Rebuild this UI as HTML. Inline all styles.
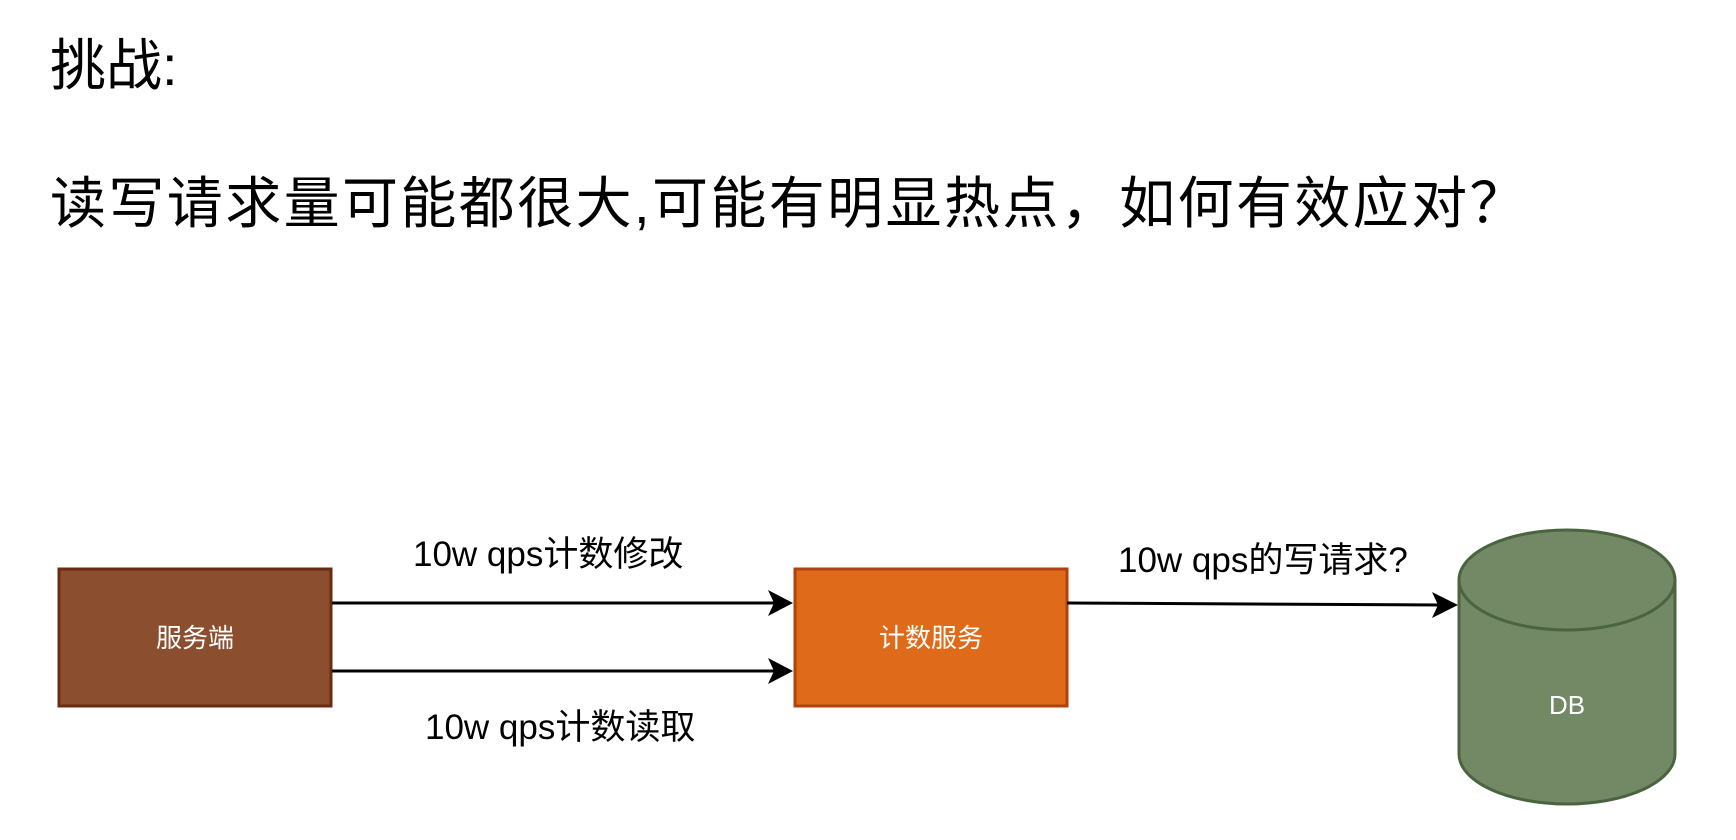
<!DOCTYPE html>
<html><head><meta charset="utf-8"><style>
body{margin:0;width:1736px;height:840px;background:#fff;overflow:hidden;position:relative;font-family:"Liberation Sans","Noto Sans CJK SC",sans-serif;}
.t{position:absolute;white-space:nowrap;color:#000;line-height:1}
</style></head><body>
<div class="t" style="left:50px;top:38px;font-size:56px">挑战:</div>
<div class="t" style="left:50px;top:176px;font-size:56px;letter-spacing:2.4px">读写请求量可能都很大,可能有明显热点，如何有效应对？</div>
<svg width="1736" height="840" style="position:absolute;left:0;top:0">
<rect x="59" y="569" width="272" height="137" fill="#8B4F30" stroke="#6B2B10" stroke-width="3"/>
<rect x="795" y="569" width="272" height="137" fill="#DF6A1A" stroke="#B0420E" stroke-width="3"/>
<path d="M1459,580 L1459,754 A108,50 0 0 0 1675,754 L1675,580 A108,50 0 0 0 1459,580z" fill="#738966" stroke="#4A6440" stroke-width="3"/>
<path d="M1459,580 A108,50 0 0 0 1675,580" fill="none" stroke="#4A6440" stroke-width="3"/>
<line x1="332" y1="603" x2="780" y2="603" stroke="#000" stroke-width="3"/>
<line x1="332" y1="671" x2="780" y2="671" stroke="#000" stroke-width="3"/>
<line x1="1067" y1="603" x2="1440" y2="605" stroke="#000" stroke-width="3"/>
<path d="M768,590 L793,603 L768,616 L774,603z"/>
<path d="M768,658 L793,671 L768,684 L774,671z"/>
<path d="M1432,592 L1458,605 L1432,618 L1438,605z"/>
<g font-family="Liberation Sans,Noto Sans CJK SC,sans-serif" fill="#fff" font-size="26" text-anchor="middle">
<text x="195" y="647">服务端</text>
<text x="931" y="647">计数服务</text>
<text x="1567" y="714">DB</text>
</g>
<g font-family="Liberation Sans,Noto Sans CJK SC,sans-serif" fill="#000" font-size="35">
<text x="413" y="566">10w qps计数修改</text>
<text x="425" y="739">10w qps计数读取</text>
<text x="1118" y="572">10w qps的写请求?</text>
</g>
</svg>
</body></html>
